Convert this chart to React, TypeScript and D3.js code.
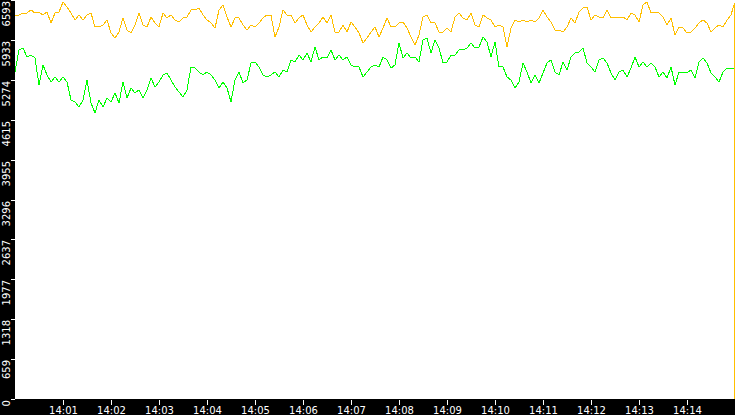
import React from "react";
import * as d3 from "d3";

const W = 735;
const H = 415;

// y-axis tick values / labels
const yMax = 6593;
const yTickLabels = ["0", "659", "1318", "1977", "2637", "3296", "3955", "4615", "5274", "5933", "6593"];
// x-axis tick labels (minutes)
const xTickLabels = ["14:01", "14:02", "14:03", "14:04", "14:05", "14:06", "14:07", "14:08", "14:09", "14:10", "14:11", "14:12", "14:13", "14:14"];

// sample times in seconds after 14:00:00 (last two samples share a timestamp: the final drop)
const sampleSeconds = [...d3.range(0, 900, 5), 899.375, 899.375];

const orangeSeries = [
  6345, 6345, 6378, 6378, 6428, 6378, 6395, 6345, 6395, 6213, 6378, 6395, 6560, 6477, 6378, 6263, 6345, 6263, 6345, 6378, 6147, 6147, 6180, 6263, 6048, 5965, 6064, 6296, 6097, 6048, 6180, 6378, 6180, 6147, 6312, 6213, 6147, 6378, 6296, 6345, 6263, 6230, 6296, 6312, 6428,
  6428, 6461, 6345, 6263, 6213, 6130, 6428, 6510, 6312, 6147, 6296, 6296, 6180, 6097, 6180, 6147, 6213, 6296, 6345, 6345, 5982, 6147, 6428, 6345, 6345, 6213, 6296, 6345, 6180, 6064, 6147, 6213, 6312, 6213, 6345, 6064, 6064, 6180, 6064, 6230, 6147, 6048, 5883, 5965, 6064,
  6147, 5982, 6130, 6296, 6147, 6147, 6213, 6230, 6130, 5982, 5849, 6015, 6312, 6345, 6213, 6213, 6064, 6064, 6130, 6064, 6312, 6378, 6296, 6263, 6378, 6180, 6147, 6345, 6296, 6263, 6147, 6180, 6147, 5816, 6130, 6263, 6230, 6263, 6230, 6263, 6230, 6296, 6428, 6312, 6230,
  6097, 6097, 6064, 6147, 6296, 6213, 6395, 6461, 6477, 6263, 6345, 6312, 6296, 6428, 6296, 6312, 6312, 6312, 6263, 6378, 6345, 6230, 6510, 6560, 6378, 6395, 6378, 6312, 6180, 6296, 6015, 6147, 6130, 6048, 6064, 6130, 6213, 6263, 6213, 6064, 6130, 6180, 6147, 6263, 6345,
  6544, 0,
];

const greenSeries = [
  5403, 5767, 5800, 5651, 5684, 5635, 5189, 5519, 5354, 5238, 5321, 5238, 5321, 5238, 4941, 4908, 4825, 4941, 5271, 4891, 4726, 4941, 4825, 4974, 4908, 5056, 4891, 5238, 4974, 5139, 5056, 5106, 4974, 5106, 5304, 5155, 5238, 5354, 5387, 5271, 5155, 5073, 4990, 5106, 5486,
  5469, 5403, 5354, 5403, 5354, 5271, 5139, 5238, 5139, 4908, 5271, 5403, 5222, 5271, 5552, 5569, 5486, 5354, 5321, 5354, 5403, 5321, 5436, 5403, 5602, 5569, 5684, 5602, 5717, 5569, 5816, 5602, 5651, 5635, 5767, 5602, 5684, 5602, 5651, 5519, 5486, 5486, 5321, 5403, 5486,
  5519, 5486, 5651, 5602, 5469, 5519, 5883, 5635, 5717, 5635, 5651, 5569, 5932, 5965, 5717, 5932, 5800, 5552, 5569, 5684, 5684, 5767, 5767, 5800, 5883, 5800, 5816, 5982, 5899, 5651, 5899, 5486, 5486, 5321, 5271, 5139, 5238, 5552, 5403, 5222, 5354, 5222, 5387, 5552, 5602,
  5403, 5354, 5569, 5436, 5651, 5717, 5734, 5800, 5552, 5486, 5403, 5602, 5635, 5552, 5387, 5271, 5403, 5436, 5321, 5469, 5651, 5486, 5569, 5486, 5552, 5486, 5321, 5403, 5304, 5486, 5189, 5403, 5387, 5387, 5436, 5304, 5569, 5635, 5552, 5387, 5321, 5238, 5403, 5469, 5469,
  5469, 2743,
];

const ORANGE = "#ffbf00";
const GREEN = "#00ff00";

const plotLeft = 15;
const plotBottom = 399;
const font = "'DejaVu Sans', Verdana, sans-serif";

export default function App() {
  const t0 = new Date(2020, 0, 1, 14, 0, 0);
  const t1 = new Date(2020, 0, 1, 14, 15, 0);
  const x = d3.scaleTime().domain([t0, t1]).range([plotLeft, W]);
  const y = d3.scaleLinear().domain([0, yMax]).range([plotBottom, 0]);

  const times = sampleSeconds.map((s) => new Date(t0.getTime() + s * 1000));
  const line = d3
    .line<number>()
    .x((_, i) => x(times[i]))
    .y((d) => y(d));

  const yTicks = yTickLabels.map((lab, i) => ({ lab, v: (yMax * i) / 10 }));
  const xTicks = xTickLabels.map((lab, i) => ({
    lab,
    t: new Date(t0.getTime() + (i + 1) * 60000),
  }));

  return (
    <svg
      width={W}
      height={H}
      style={{ position: "fixed", left: 0, top: 0, display: "block" }}
    >
      <rect x={0} y={0} width={W} height={H} fill="#000" />
      <rect x={plotLeft} y={0} width={W - plotLeft} height={plotBottom} fill="#fff" />
      <path d={line(greenSeries) || ""} fill="none" stroke={GREEN} strokeWidth={1} shapeRendering="crispEdges" />
      <path d={line(orangeSeries) || ""} fill="none" stroke={ORANGE} strokeWidth={1} shapeRendering="crispEdges" />
      <rect x={0} y={plotBottom} width={W} height={H - plotBottom} fill="#000" />
      {yTicks.map(({ lab, v }) => {
        const yy = Math.round(y(v));
        return (
          <g key={lab}>
            <line x1={11} x2={plotLeft} y1={yy + 0.5} y2={yy + 0.5} stroke="#fff" strokeWidth={1} />
            <text
              transform={`translate(9.5,${yy + 1}) rotate(-90)`}
              textAnchor="end"
              fill="#fff"
              fontFamily={font}
              fontSize={10}
            >
              {lab}
            </text>
          </g>
        );
      })}
      {xTicks.map(({ lab, t }) => {
        const xx = Math.round(x(t));
        return (
          <g key={lab}>
            <line x1={xx + 0.5} x2={xx + 0.5} y1={400} y2={405} stroke="#fff" strokeWidth={1} />
            <text x={xx + 0.5} y={413.5} textAnchor="middle" fill="#fff" fontFamily={font} fontSize={10}>
              {lab}
            </text>
          </g>
        );
      })}
    </svg>
  );
}
